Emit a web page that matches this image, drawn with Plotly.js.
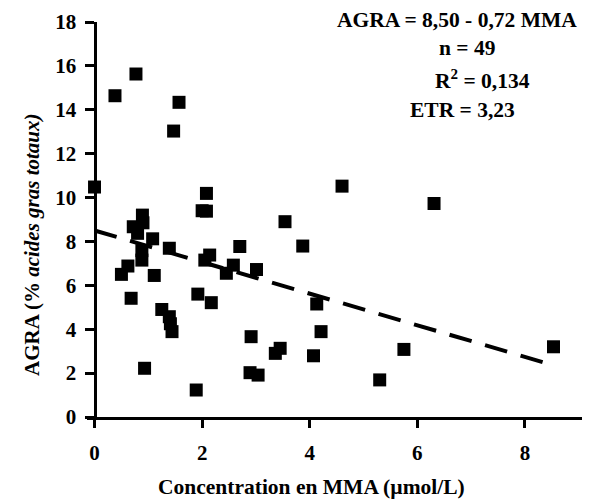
<!DOCTYPE html>
<html>
<head>
<meta charset="utf-8">
<script src="https://cdn.plot.ly/plotly-3.0.1.min.js"></script>
<style>html,body{margin:0;padding:0;background:#fff;}#chart{width:594px;height:501px;}</style>
</head>
<body>
<div id="chart"></div>
<script>
// MMA concentration (µmol/L)
const mma = [0.00,0.38,0.77,1.57,1.47,2.08,2.00,2.08,0.89,0.90,
             0.72,0.80,1.08,0.88,0.88,0.62,0.50,1.11,1.39,2.70,
             2.14,2.05,2.58,2.45,3.01,4.60,3.54,3.87,6.31,8.53,
             5.75,4.13,4.21,4.07,5.30,2.91,3.45,3.36,2.89,3.04,
             0.68,1.92,2.17,1.25,1.39,1.41,1.44,0.93,1.89];
// AGRA (% acides gras totaux)
const agra = [10.48,14.64,15.63,14.34,13.03,10.19,9.40,9.38,9.20,8.85,
              8.67,8.37,8.12,7.58,7.15,6.88,6.50,6.45,7.69,7.77,
              7.38,7.15,6.92,6.55,6.72,10.52,8.90,7.79,9.73,3.20,
              3.08,5.15,3.89,2.79,1.69,3.66,3.13,2.90,2.02,1.91,
              5.41,5.60,5.21,4.90,4.57,4.25,3.89,2.22,1.23];
// regression line AGRA = 8,50 - 0,72 MMA
const fitX = [0, 8.5];
const fitY = [8.50, 2.38];
const xTicks = [0, 2, 4, 6, 8];
const yTicks = [0, 2, 4, 6, 8, 10, 12, 14, 16, 18];
const statLines = ["AGRA = 8,50 - 0,72 MMA", "n = 49", "R<sup>2</sup> = 0,134", "ETR = 3,23"];

const W = 594, H = 501;
const M = {l: 87, r: 12, t: 22, b: 84};
const pw = W - M.l - M.r, ph = H - M.t - M.b;
const xr = [-0.14, 9.06];
function px(x){ return (x - M.l) / pw; }
function py(y){ return (H - M.b - y) / ph; }

const font = "Liberation Serif";

const traces = [
  {x: fitX, y: fitY, mode: 'lines', type: 'scatter',
   line: {color: '#000', width: 4, dash: '23px,14px'}, hoverinfo: 'skip'},
  {x: mma, y: agra, mode: 'markers', type: 'scatter',
   marker: {symbol: 'square', size: 13, color: '#000'}}
];

const statPos = [[457, 20], [467, 48], [482, 79], [462, 110]];
const annotations = statLines.map((t, i) => ({
  text: '<b>' + t + '</b>', xref: 'paper', yref: 'paper',
  x: px(statPos[i][0]), y: py(statPos[i][1]), xanchor: 'center', yanchor: 'middle',
  showarrow: false, font: {family: font, size: 21.5, color: '#000'}
}));
annotations.push({
  text: '<b>AGRA (% <i>acides gras totaux)</i></b>', xref: 'paper', yref: 'paper',
  x: px(32), y: py(245), textangle: -90, xanchor: 'center', yanchor: 'middle',
  showarrow: false, font: {family: font, size: 21, color: '#000'}
});
annotations.push({
  text: '<b>Concentration en MMA (µmol/L)</b>', xref: 'paper', yref: 'paper',
  x: px(311), y: py(487), xanchor: 'center', yanchor: 'middle',
  showarrow: false, font: {family: font, size: 21.5, color: '#000'}
});

const tickfont = {family: font, size: 21, color: '#000', weight: 'bold'};

const layout = {
  width: W, height: H,
  margin: M,
  paper_bgcolor: '#fff', plot_bgcolor: '#fff',
  showlegend: false,
  font: {family: font, color: '#000'},
  xaxis: {
    range: xr, tickvals: xTicks, ticktext: xTicks.map(v => '<b>' + v + '</b>'),
    showgrid: false, zeroline: false, showline: true, linecolor: '#000', linewidth: 3,
    ticks: 'outside', ticklen: 8, tickwidth: 3, tickcolor: '#000',
    ticklabelstandoff: 7,
    tickfont: tickfont
  },
  yaxis: {
    range: [0, 18], tickvals: yTicks, ticktext: yTicks.map(v => '<b>' + v + '</b>'),
    anchor: 'free', position: (0 - xr[0]) / (xr[1] - xr[0]),
    showgrid: false, zeroline: false, showline: true, linecolor: '#000', linewidth: 3,
    ticks: 'outside', ticklen: 9, tickwidth: 3, tickcolor: '#000',
    ticklabelstandoff: 4,
    tickfont: tickfont
  },
  annotations: annotations
};

Plotly.newPlot('chart', traces, layout, {staticPlot: true, displayModeBar: false});
</script>
</body>
</html>
